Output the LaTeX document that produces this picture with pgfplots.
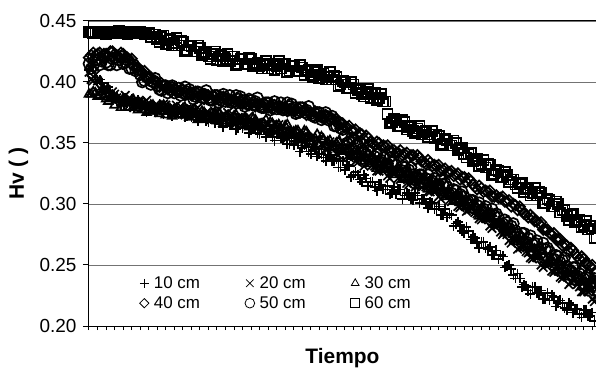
\documentclass[border=0pt]{standalone}
\usepackage{fontspec}
\setmainfont{Liberation Sans}
\usepackage{pgfplots}
\usepackage{pgfplotstable}
\pgfplotsset{compat=1.18}

\pgfplotstableread{
t a b c d e f
0 .410 .408 .390 .420 .415 .441
0.5 .412 .401 .392 .424 .413 .440
1 .402 .401 .388 .423 .418 .441
1.5 .399 .393 .392 .420 .417 .440
2 .391 .394 .386 .423 .416 .439
2.5 .392 .389 .387 .425 .414 .441
3 .388 .390 .381 .423 .420 .440
3.5 .384 .386 .385 .421 .418 .442
4 .387 .383 .383 .423 .415 .440
4.5 .383 .385 .379 .420 .418 .439
5 .386 .380 .384 .419 .411 .441
5.5 .380 .384 .379 .412 .409 .440
6 .379 .384 .380 .409 .406 .441
6.5 .383 .379 .381 .409 .401 .439
7 .378 .381 .376 .403 .403 .440
7.5 .380 .377 .381 .399 .400 .439
8 .375 .381 .376 .400 .397 .435
8.5 .380 .378 .378 .399 .393 .437
9 .377 .381 .373 .395 .397 .431
9.5 .374 .378 .378 .393 .394 .435
10 .378 .375 .377 .395 .391 .432
10.5 .374 .378 .373 .392 .395 .430
11 .378 .374 .378 .394 .391 .433
11.5 .372 .378 .373 .390 .392 .426
12 .371 .378 .374 .389 .391 .429
12.5 .376 .373 .375 .392 .388 .425
13 .371 .375 .371 .389 .391 .428
13.5 .372 .371 .375 .386 .390 .424
14 .367 .375 .371 .389 .387 .421
14.5 .371 .372 .372 .389 .385 .423
15 .369 .375 .368 .386 .389 .418
15.5 .366 .372 .372 .384 .387 .422
16 .369 .369 .371 .387 .384 .419
16.5 .365 .372 .367 .385 .389 .417
17 .368 .367 .372 .386 .384 .421
17.5 .362 .371 .367 .383 .386 .415
18 .362 .371 .368 .382 .385 .419
18.5 .366 .366 .369 .385 .382 .415
19 .361 .368 .365 .382 .385 .419
19.5 .362 .363 .369 .380 .384 .415
20 .357 .367 .365 .382 .381 .413
20.5 .361 .363 .366 .383 .379 .415
21 .358 .366 .361 .379 .383 .411
21.5 .355 .362 .366 .378 .381 .415
22 .358 .359 .364 .380 .378 .413
22.5 .354 .361 .360 .379 .383 .411
23 .356 .356 .364 .380 .378 .415
23.5 .349 .359 .359 .377 .380 .409
24 .348 .359 .359 .376 .379 .413
24.5 .351 .353 .360 .379 .375 .409
25 .346 .355 .355 .376 .379 .412
25.5 .347 .350 .359 .373 .377 .409
26 .341 .354 .354 .375 .374 .406
26.5 .345 .349 .354 .376 .371 .408
27 .341 .352 .349 .372 .375 .403
27.5 .338 .348 .353 .370 .372 .407
28 .340 .345 .351 .372 .369 .404
28.5 .335 .347 .347 .370 .372 .402
29 .337 .341 .350 .370 .364 .404
29.5 .330 .345 .345 .366 .362 .398
30 .328 .344 .345 .363 .356 .400
30.5 .331 .338 .345 .364 .351 .395
31 .324 .340 .340 .360 .353 .398
31.5 .324 .334 .343 .356 .349 .393
32 .318 .338 .338 .357 .345 .390
32.5 .321 .333 .338 .356 .341 .392
33 .318 .336 .333 .351 .343 .387
33.5 .314 .331 .336 .348 .339 .391
34 .316 .327 .333 .350 .335 .387
34.5 .312 .329 .329 .348 .338 .384
35 .315 .323 .332 .348 .333 .374
35.5 .309 .326 .326 .343 .334 .367
36 .308 .326 .326 .342 .332 .369
36.5 .312 .320 .326 .344 .328 .364
37 .307 .321 .321 .341 .330 .367
37.5 .308 .316 .325 .338 .328 .363
38 .303 .320 .320 .340 .324 .360
38.5 .307 .316 .321 .340 .321 .362
39 .304 .318 .315 .335 .324 .357
39.5 .300 .314 .319 .333 .321 .360
40 .302 .310 .316 .334 .318 .357
40.5 .296 .311 .311 .332 .321 .354
41 .298 .306 .315 .332 .316 .356
41.5 .291 .309 .309 .328 .316 .349
42 .289 .308 .308 .326 .314 .352
42.5 .291 .302 .309 .327 .309 .348
43 .284 .303 .303 .324 .311 .350
43.5 .283 .297 .306 .320 .308 .346
44 .276 .301 .301 .322 .306 .341
44.5 .278 .295 .301 .321 .300 .341
45 .273 .297 .295 .316 .303 .335
45.5 .268 .292 .297 .312 .299 .337
46 .269 .287 .294 .313 .295 .333
46.5 .264 .288 .289 .311 .298 .330
47 .265 .282 .292 .311 .292 .332
47.5 .258 .284 .285 .306 .291 .325
48 .255 .283 .284 .305 .289 .327
48.5 .257 .275 .283 .306 .284 .322
49 .249 .275 .277 .302 .285 .324
49.5 .247 .268 .279 .298 .282 .320
50 .239 .270 .272 .299 .278 .316
50.5 .239 .264 .271 .298 .273 .316
51 .234 .265 .264 .292 .276 .310
51.5 .229 .260 .267 .289 .272 .313
52 .232 .255 .263 .289 .267 .309
52.5 .227 .256 .258 .286 .270 .307
53 .229 .250 .261 .285 .264 .309
53.5 .222 .252 .254 .279 .263 .301
54 .221 .251 .253 .276 .261 .303
54.5 .224 .244 .252 .276 .255 .298
55 .219 .245 .246 .271 .257 .300
55.5 .219 .239 .249 .266 .254 .295
56 .213 .241 .243 .266 .249 .290
56.5 .217 .236 .243 .264 .245 .291
57 .214 .238 .236 .259 .248 .285
57.5 .210 .232 .239 .255 .243 .287
58 .213 .228 .236 .255 .239 .283
58.5 .208 .228 .231 .251 .242 .279
59 .211 .222 .234 .250 .235 .280
59.5 .204 .224 .227 .244 .235 .272
}\datatable

\pgfplotstableread{
t a b c d e f
0.25 .413 .402 .390 .422 .411 .441
0.75 .402 .406 .391 .422 .418 .440
1.25 .402 .395 .389 .424 .414 .440
1.75 .394 .395 .388 .423 .421 .441
2.25 .396 .387 .384 .421 .414 .440
2.75 .386 .392 .389 .425 .419 .441
3.25 .388 .387 .387 .422 .414 .440
3.75 .381 .383 .379 .424 .421 .440
4.25 .387 .389 .384 .420 .416 .441
4.75 .383 .387 .379 .418 .411 .440
5.25 .379 .379 .385 .413 .414 .440
5.75 .385 .384 .377 .412 .410 .441
6.25 .383 .379 .381 .408 .400 .440
6.75 .375 .385 .375 .404 .404 .440
7.25 .381 .377 .381 .404 .398 .437
7.75 .376 .381 .378 .401 .403 .439
8.25 .382 .375 .374 .396 .394 .433
8.75 .374 .382 .381 .397 .397 .438
9.25 .377 .378 .379 .394 .391 .434
9.75 .372 .375 .372 .396 .397 .430
10.25 .378 .381 .378 .392 .393 .436
10.75 .375 .380 .373 .392 .389 .434
11.25 .371 .373 .379 .389 .396 .425
11.75 .377 .378 .371 .391 .394 .430
12.25 .376 .373 .375 .390 .386 .425
12.75 .368 .379 .369 .388 .392 .430
13.25 .373 .371 .376 .390 .387 .422
13.75 .368 .375 .372 .389 .393 .425
14.25 .373 .369 .369 .385 .385 .419
14.75 .366 .376 .375 .388 .389 .425
15.25 .369 .372 .374 .385 .383 .421
15.75 .363 .369 .366 .388 .390 .417
16.25 .369 .375 .372 .384 .386 .423
16.75 .365 .374 .367 .384 .383 .421
17.25 .361 .366 .373 .382 .389 .414
17.75 .368 .371 .365 .384 .388 .419
18.25 .366 .366 .369 .383 .380 .415
18.75 .358 .372 .363 .381 .386 .420
19.25 .363 .364 .370 .384 .381 .413
19.75 .358 .367 .366 .382 .387 .416
20.25 .363 .361 .363 .379 .379 .411
20.75 .355 .367 .369 .381 .383 .417
21.25 .358 .363 .367 .379 .377 .414
21.75 .352 .359 .360 .381 .384 .410
22.25 .358 .365 .365 .378 .380 .417
22.75 .354 .363 .360 .378 .377 .415
23.25 .349 .354 .365 .376 .383 .408
23.75 .354 .359 .357 .378 .382 .413
24.25 .352 .354 .360 .377 .374 .409
24.75 .343 .359 .354 .375 .379 .414
25.25 .348 .351 .360 .377 .375 .406
25.75 .343 .354 .356 .375 .380 .410
26.25 .347 .347 .351 .372 .372 .404
26.75 .339 .353 .357 .374 .375 .410
27.25 .341 .349 .355 .371 .369 .406
27.75 .335 .345 .347 .373 .375 .402
28.25 .340 .351 .352 .369 .370 .408
28.75 .335 .348 .346 .369 .364 .405
29.25 .330 .340 .351 .365 .367 .397
29.75 .335 .344 .343 .366 .361 .401
30.25 .332 .339 .345 .363 .350 .395
30.75 .322 .344 .339 .360 .354 .400
31.25 .326 .335 .344 .361 .348 .391
31.75 .320 .338 .340 .358 .351 .394
32.25 .324 .331 .335 .353 .342 .388
32.75 .315 .337 .341 .354 .344 .394
33.25 .318 .332 .338 .350 .336 .390
33.75 .311 .327 .329 .351 .341 .385
34.25 .316 .333 .334 .347 .336 .390
34.75 .312 .330 .328 .347 .332 .384
35.25 .308 .321 .332 .343 .338 .366
35.75 .314 .326 .324 .344 .335 .370
36.25 .312 .321 .326 .342 .327 .364
36.75 .304 .325 .320 .340 .331 .369
37.25 .309 .317 .326 .342 .326 .361
37.75 .304 .320 .322 .340 .330 .364
38.25 .309 .314 .318 .336 .322 .358
38.75 .301 .319 .323 .338 .324 .364
39.25 .304 .315 .321 .334 .318 .359
39.75 .297 .310 .312 .336 .324 .355
40.25 .301 .315 .316 .331 .319 .360
40.75 .296 .313 .311 .331 .315 .357
41.25 .291 .304 .315 .327 .320 .348
41.75 .296 .308 .306 .329 .317 .353
42.25 .292 .303 .309 .326 .308 .348
42.75 .282 .307 .302 .323 .312 .352
43.25 .285 .298 .307 .325 .306 .344
43.75 .278 .301 .303 .322 .310 .346
44.25 .281 .294 .298 .318 .301 .338
44.75 .271 .298 .303 .319 .303 .342
45.25 .272 .293 .300 .314 .296 .337
45.75 .264 .288 .290 .315 .301 .331
46.25 .269 .292 .294 .310 .296 .336
46.75 .263 .289 .288 .310 .291 .333
47.25 .258 .280 .292 .306 .296 .324
47.75 .262 .283 .283 .307 .292 .328
48.25 .258 .277 .284 .305 .283 .322
48.75 .248 .280 .276 .302 .287 .326
49.25 .250 .270 .281 .303 .280 .318
49.75 .242 .271 .275 .300 .284 .320
50.25 .243 .263 .269 .295 .275 .313
50.75 .232 .267 .273 .295 .276 .317
51.25 .233 .261 .269 .291 .269 .312
51.75 .226 .256 .260 .291 .274 .307
52.25 .232 .260 .263 .286 .268 .313
52.75 .227 .257 .257 .284 .263 .310
53.25 .222 .248 .261 .279 .268 .301
53.75 .227 .251 .251 .279 .264 .304
54.25 .225 .245 .253 .275 .255 .298
54.75 .216 .249 .245 .271 .258 .302
55.25 .221 .240 .250 .271 .252 .293
55.75 .215 .242 .245 .267 .256 .295
56.25 .219 .234 .240 .261 .246 .287
56.75 .211 .239 .245 .262 .248 .292
57.25 .214 .234 .241 .257 .241 .287
57.75 .207 .228 .232 .257 .245 .281
58.25 .213 .233 .236 .251 .240 .286
58.75 .208 .229 .230 .249 .235 .282
59.25 .204 .220 .234 .244 .239 .272
}\datatableB

\begin{document}
\begin{tikzpicture}
\begin{axis}[
  scale only axis, width=507bp, height=305bp,
  xmin=0, xmax=59.44, ymin=0.20, ymax=0.45,
  clip=false,
  axis x line*=bottom, axis y line*=left,
  axis line style={black, line width=1bp},
  ytick={0.2,0.25,0.3,0.35,0.4,0.45},
  xtick={0,1,...,59}, xticklabels={},
  tick align=outside,
  major tick length=6bp,
  xtick style={/pgfplots/major tick length=4bp},
  every tick/.style={black, line width=1bp},
  ymajorgrids,
  grid style={black!55, line width=0.8bp},
  /pgf/number format/assume math mode=true,
  y tick label style={/pgf/number format/fixed, /pgf/number format/fixed zerofill, /pgf/number format/precision=2, xshift=-3bp},
  tick label style={font=\fontsize{19}{21}\selectfont},
  xlabel={Tiempo}, ylabel={Hv ( )},
  xlabel style={at={(axis description cs:0.5,-0.105)}, anchor=center, font=\bfseries\fontsize{21}{23}\selectfont},
  ylabel style={at={(axis description cs:-0.139,0.5)}, anchor=center, font=\bfseries\fontsize{21}{23}\selectfont},
  every axis plot/.append style={black, only marks, line width=1.7bp},
  legend columns=3,
  legend cell align=left,
  legend style={draw=none, fill=none, at={(0.0996,0.168)}, anchor=north west, inner sep=0pt,
    font=\fontsize{17}{19}\selectfont,
    nodes={inner xsep=5bp, inner ysep=1.5bp, text height=12.5bp, text depth=1bp},
    row sep=3.5bp,
    /tikz/every even column/.append style={column sep=40bp}},
  legend image code/.code={\draw[#1, line width=0.8bp, /tikz/every mark/.append style={scale=0.88}] plot coordinates {(0bp,0bp)};},
]
\addplot[mark=+, mark size=5bp] table[x=t,y=a]{\datatable};
\addlegendentry{10 cm}
\addplot[mark=x, mark size=6bp] table[x=t,y=b]{\datatable};
\addlegendentry{20 cm}
\addplot[mark=triangle, mark size=5bp] table[x=t,y=c]{\datatable};
\addlegendentry{30 cm}
\addplot[mark=square, mark size=3.7bp, mark options={rotate=45}] table[x=t,y=d]{\datatable};
\addlegendentry{40 cm}
\addplot[mark=o, mark size=5.5bp] table[x=t,y=e]{\datatable};
\addlegendentry{50 cm}
\addplot[mark=square, mark size=5bp] table[x=t,y=f]{\datatable};
\addlegendentry{60 cm}
\addplot[forget plot, mark=+, mark size=5bp] table[x=t,y=a]{\datatableB};
\addplot[forget plot, mark=x, mark size=6bp] table[x=t,y=b]{\datatableB};
\addplot[forget plot, mark=triangle, mark size=5bp] table[x=t,y=c]{\datatableB};
\addplot[forget plot, mark=square, mark size=3.7bp, mark options={rotate=45}] table[x=t,y=d]{\datatableB};
\addplot[forget plot, mark=o, mark size=5.5bp] table[x=t,y=e]{\datatableB};
\addplot[forget plot, mark=square, mark size=5bp] table[x=t,y=f]{\datatableB};
\draw[black, line width=1bp] (rel axis cs:0,1) -- (rel axis cs:1,1);
\end{axis}
\pgfresetboundingbox
\useasboundingbox (-89bp,-43bp) rectangle (507bp,326bp);
\end{tikzpicture}
\end{document}
